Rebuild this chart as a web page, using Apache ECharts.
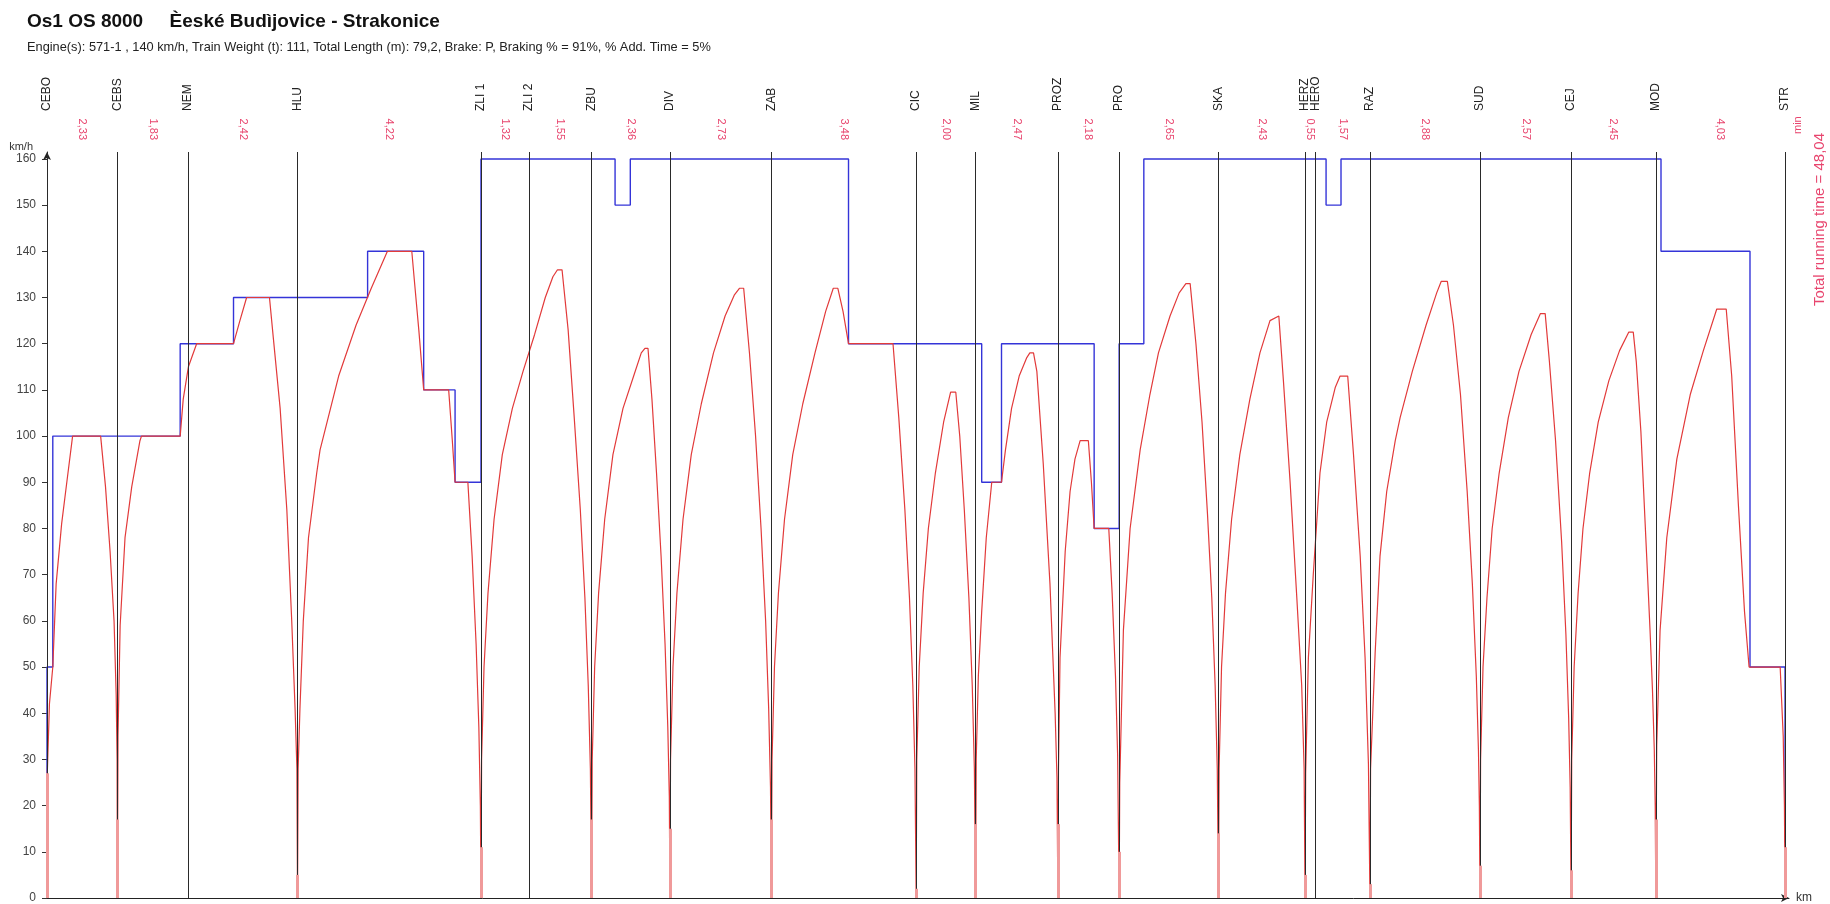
<!DOCTYPE html>
<html>
<head>
<meta charset="utf-8">
<script src="https://cdn.jsdelivr.net/npm/echarts@6/dist/echarts.min.js"></script>
<style>
  html, body { margin: 0; padding: 0; background: #fff; }
  #chart { width: 1830px; height: 904px; }
</style>
</head>
<body>
<div id="chart"></div>
<script>
// Timetable points along the line (km from České Budějovice)
const stationNames = ['CEBO', 'CEBS', 'NEM', 'HLU', 'ZLI 1', 'ZLI 2', 'ZBU', 'DIV', 'ZAB', 'CIC',
  'MIL', 'PROZ', 'PRO', 'SKA', 'HERZ', 'HERO', 'RAZ', 'SUD', 'CEJ', 'MOD', 'STR'];
const stationKm = [0, 2.31, 4.62, 8.22, 14.24, 15.81, 17.87, 20.44, 23.77, 28.52,
  30.47, 33.17, 35.18, 38.44, 41.28, 41.63, 43.41, 47.02, 50.01, 52.79, 57.03];

// Running time between consecutive timing points (min)
const runTimes = ['2,33', '1,83', '2,42', '4,22', '1,32', '1,55', '2,36', '2,73', '3,48', '2,00',
  '2,47', '2,18', '2,65', '2,43', '0,55', '1,57', '2,88', '2,57', '2,45', '4,03'];
const totalRunningTime = '48,04';

// Stops and the speed below which the train is treated as standing (km/h)
const stopStations = ['CEBO', 'CEBS', 'HLU', 'ZLI 1', 'ZBU', 'DIV', 'ZAB', 'CIC', 'MIL', 'PROZ',
  'PRO', 'SKA', 'HERZ', 'RAZ', 'SUD', 'CEJ', 'MOD', 'STR'];
const stopStandstill = [27, 17, 5, 11, 17, 15, 17, 2, 16, 16, 10, 14, 5, 3, 7, 6, 17, 11];

// Line speed limit: [km where the limit starts, km/h]
const speedLimit = [[0, 27], [0, 50], [0.19, 100], [4.37, 120], [6.12, 130], [10.52, 140],
  [12.36, 110], [13.39, 90], [14.24, 160], [18.64, 150], [19.14, 160], [26.30, 120],
  [30.67, 90], [31.32, 120], [34.36, 80], [35.18, 120], [35.99, 160], [41.97, 150],
  [42.46, 160], [52.96, 140], [55.88, 50], [57.03, 12]];

// Train speed [km, km/h], one run per stop-to-stop section
const runCeboCebs = [[0, 0], [0.01, 27], [0.08, 42], [0.19, 50], [0.30, 68], [0.48, 81], [0.65, 90],
  [0.84, 100], [1.76, 100], [1.92, 89], [2.07, 75], [2.20, 60], [2.27, 44], [2.30, 30], [2.31, 0]];
const runCebsHlu = [[2.31, 0], [2.33, 35], [2.40, 59], [2.56, 78], [2.78, 89], [3.05, 99], [3.10, 100],
  [4.37, 100], [4.47, 108], [4.64, 115], [4.91, 120], [6.12, 120], [6.33, 125], [6.55, 130],
  [7.30, 130], [7.43, 121], [7.65, 106], [7.87, 84], [8.03, 60], [8.14, 41], [8.20, 28], [8.22, 0]];
const runHluZli = [[8.22, 0], [8.24, 28], [8.30, 41], [8.41, 60], [8.58, 78], [8.85, 92], [8.96, 97],
  [9.57, 113], [10.14, 124], [10.64, 132], [11.17, 140], [11.97, 140], [12.05, 134], [12.20, 123],
  [12.36, 110], [13.18, 110], [13.30, 99], [13.39, 90], [13.81, 90], [13.95, 74], [14.08, 55],
  [14.17, 37], [14.22, 20], [14.24, 0]];
const runZliZbu = [[14.24, 0], [14.26, 30], [14.34, 50], [14.47, 66], [14.67, 82], [14.94, 96],
  [15.27, 106], [15.62, 114], [16.00, 122], [16.35, 130], [16.60, 134.5], [16.75, 136], [16.90, 136],
  [17.10, 123], [17.30, 104], [17.50, 84], [17.65, 65], [17.76, 46], [17.83, 28], [17.87, 0]];
const runZbuDiv = [[17.87, 0], [17.89, 30], [17.97, 50], [18.10, 66], [18.30, 82], [18.57, 96],
  [18.90, 106], [19.25, 113], [19.50, 118], [19.62, 119], [19.72, 119], [19.85, 108], [20.00, 92],
  [20.15, 74], [20.28, 55], [20.37, 37], [20.42, 22], [20.44, 0]];
const runDivZab = [[20.44, 0], [20.46, 30], [20.54, 50], [20.67, 66], [20.87, 82], [21.14, 96],
  [21.47, 107], [21.87, 118], [22.25, 126], [22.55, 130.5], [22.72, 132], [22.86, 132], [23.05, 118],
  [23.25, 100], [23.43, 80], [23.58, 60], [23.68, 41], [23.74, 24], [23.77, 0]];
const runZabCic = [[23.77, 0], [23.79, 30], [23.87, 50], [24.00, 66], [24.20, 82], [24.47, 96],
  [24.80, 107], [25.20, 118], [25.55, 127], [25.80, 132], [25.95, 132], [26.12, 127], [26.30, 120],
  [27.76, 120], [27.95, 104], [28.15, 84], [28.30, 65], [28.41, 46], [28.48, 28], [28.52, 0]];
const runCicMil = [[28.52, 0], [28.54, 30], [28.62, 50], [28.75, 66], [28.92, 80], [29.15, 92],
  [29.42, 103], [29.65, 109.5], [29.82, 109.5], [29.95, 100], [30.10, 84], [30.25, 65], [30.36, 46],
  [30.43, 28], [30.47, 0]];
const runMilProz = [[30.47, 0], [30.49, 30], [30.56, 48], [30.67, 62], [30.82, 78], [31.00, 90],
  [31.32, 90], [31.45, 97], [31.65, 106], [31.90, 113], [32.15, 117], [32.25, 118], [32.37, 118],
  [32.48, 114], [32.69, 94], [32.91, 68], [33.08, 40], [33.14, 26], [33.17, 0]];
const runProzPro = [[33.17, 0], [33.19, 28], [33.24, 52], [33.41, 75], [33.57, 88], [33.73, 95],
  [33.90, 99], [34.17, 99], [34.27, 90], [34.36, 80], [34.84, 80], [34.95, 66], [35.06, 48],
  [35.13, 31], [35.18, 0]];
const runProSka = [[35.18, 0], [35.20, 25], [35.32, 58], [35.54, 80], [35.87, 97], [36.19, 109],
  [36.47, 118], [36.85, 126], [37.15, 131], [37.37, 133], [37.51, 133], [37.70, 120], [37.90, 103],
  [38.08, 83], [38.22, 65], [38.33, 46], [38.40, 28], [38.44, 0]];
const runSkaHerz = [[38.44, 0], [38.46, 28], [38.54, 50], [38.67, 66], [38.87, 82], [39.14, 96],
  [39.47, 108], [39.80, 118], [40.13, 125], [40.42, 126], [40.57, 112], [40.79, 90], [41.01, 65],
  [41.17, 46], [41.25, 28], [41.28, 0]];
const runHerzRaz = [[41.28, 0], [41.30, 27], [41.39, 52], [41.55, 70], [41.63, 78], [41.77, 92],
  [41.99, 103], [42.27, 110.5], [42.43, 113], [42.68, 113], [42.87, 96], [43.09, 74], [43.25, 52],
  [43.36, 29], [43.41, 0]];
const runRazSud = [[43.41, 0], [43.43, 28], [43.58, 53], [43.74, 74], [43.96, 88], [44.24, 99],
  [44.40, 104], [44.80, 114], [45.25, 124], [45.60, 131], [45.75, 133.5], [45.95, 133.5], [46.15, 124],
  [46.38, 109], [46.60, 88], [46.77, 68], [46.90, 48], [46.97, 32], [47.00, 20], [47.02, 0]];
const runSudCej = [[47.02, 0], [47.04, 30], [47.12, 50], [47.25, 65], [47.42, 80], [47.65, 92],
  [47.95, 104], [48.30, 114], [48.70, 122], [49.00, 126.5], [49.16, 126.5], [49.30, 116], [49.50, 99],
  [49.70, 77], [49.84, 57], [49.93, 39], [49.98, 24], [50.01, 0]];
const runCejMod = [[50.01, 0], [50.03, 30], [50.11, 50], [50.24, 66], [50.40, 80], [50.62, 92],
  [50.90, 103], [51.25, 112], [51.60, 118.5], [51.90, 122.5], [52.05, 122.5], [52.15, 116],
  [52.30, 101], [52.49, 74], [52.60, 58], [52.68, 45], [52.74, 32], [52.77, 20], [52.79, 0]];
const runModStr = [[52.79, 0], [52.82, 33], [52.93, 58], [53.15, 78], [53.48, 95], [53.92, 109],
  [54.35, 118.5], [54.79, 127.5], [55.10, 127.5], [55.28, 113], [55.50, 85], [55.70, 62], [55.85, 50],
  [56.87, 50], [56.97, 35], [57.01, 20], [57.03, 0]];

// Speed axis ticks
const speedTicks = [0, 10, 20, 30, 40, 50, 60, 70, 80, 90, 100, 110, 120, 130, 140, 150, 160];

const KM_MAX = 57.16;     // axis runs a little past STR
const SPEED_MAX = 161.5;  // axis runs a little past 160

const trainSpeed = [].concat(runCeboCebs, runCebsHlu, runHluZli, runZliZbu, runZbuDiv, runDivZab,
  runZabCic, runCicMil, runMilProz, runProzPro, runProSka, runSkaHerz, runHerzRaz, runRazSud,
  runSudCej, runCejMod, runModStr);

// run-time labels sit halfway between their two timing points
const runTimeKm = runTimes.map((t, i) => (stationKm[i] + stationKm[i + 1]) / 2);

function labelAt(values, texts) {
  return function (v) {
    for (let i = 0; i < values.length; i++) {
      if (Math.abs(values[i] - v) < 1e-6) return texts[i];
    }
    return '';
  };
}

const FONT = '"Liberation Sans", Arial, sans-serif';
const RED_TEXT = '#e8456e';

const chart = echarts.init(document.getElementById('chart'), null, { renderer: 'canvas' });

chart.setOption({
  animation: false,
  backgroundColor: '#ffffff',
  textStyle: { fontFamily: FONT },
  title: {
    text: 'Os1 OS 8000     Èeské Budìjovice - Strakonice',
    subtext: 'Engine(s): 571-1 , 140 km/h, Train Weight (t): 111, Total Length (m): 79,2, Brake: P, Braking % = 91%, % Add. Time = 5%',
    left: 22,
    top: 7,
    itemGap: 10,
    textStyle: { fontFamily: FONT, fontSize: 19, fontWeight: 'bold', color: '#111' },
    subtextStyle: { fontFamily: FONT, fontSize: 12.8, color: '#222' }
  },
  grid: { left: 47, right: 41, top: 152, bottom: 5, containLabel: false },
  xAxis: [
    {
      type: 'value', min: 0, max: KM_MAX, position: 'bottom',
      axisLine: { show: true, onZero: false, lineStyle: { color: '#222', width: 1 },
        symbol: ['none', 'arrow'], symbolSize: [6, 8] },
      axisTick: { show: false }, axisLabel: { show: false }, splitLine: { show: false },
      name: 'km', nameLocation: 'end', nameGap: 7,
      nameTextStyle: { fontFamily: FONT, fontSize: 12, color: '#333', verticalAlign: 'middle' }
    },
    {
      type: 'value', min: 0, max: KM_MAX, position: 'top',
      axisLine: { show: false }, axisTick: { show: false }, splitLine: { show: false },
      axisLabel: {
        customValues: stationKm, rotate: 90, margin: 41, hideOverlap: false,
        showMinLabel: true, showMaxLabel: true,
        formatter: labelAt(stationKm, stationNames),
        fontFamily: FONT, fontSize: 12, color: '#222'
      }
    },
    {
      type: 'value', min: 0, max: KM_MAX, position: 'top',
      axisLine: { show: false }, axisTick: { show: false }, splitLine: { show: false },
      axisLabel: {
        customValues: runTimeKm, rotate: 90, margin: 12, hideOverlap: false,
        showMinLabel: true, showMaxLabel: true,
        formatter: labelAt(runTimeKm, runTimes),
        fontFamily: FONT, fontSize: 11, color: RED_TEXT
      }
    }
  ],
  yAxis: {
    type: 'value', min: 0, max: SPEED_MAX, interval: 10,
    axisLine: { show: true, onZero: false, lineStyle: { color: '#222', width: 1 },
      symbol: ['none', 'arrow'], symbolSize: [6, 8] },
    axisTick: { show: true, length: 5, customValues: speedTicks, lineStyle: { color: '#333' } },
    axisLabel: { customValues: speedTicks, margin: 11, fontFamily: FONT, fontSize: 12, color: '#444' },
    splitLine: { show: false }
  },
  graphic: [
    { type: 'text', x: 33, y: 152, silent: true,
      style: { text: 'km/h', align: 'right', verticalAlign: 'bottom', font: '11px ' + FONT, fill: '#333' } },
    { type: 'text', x: 1798, y: 134, rotation: Math.PI / 2, silent: true,
      style: { text: 'min', align: 'left', verticalAlign: 'middle', font: '11px ' + FONT, fill: RED_TEXT } },
    { type: 'text', x: 1820, y: 306, rotation: Math.PI / 2, silent: true,
      style: { text: 'Total running time = ' + totalRunningTime, align: 'left', verticalAlign: 'middle',
        font: '15px ' + FONT, fill: RED_TEXT } }
  ],
  series: [
    {
      name: 'Speed limit', type: 'line', data: speedLimit, step: 'end', z: 2,
      showSymbol: false, silent: true,
      lineStyle: { color: '#3434d8', width: 1.4 }
    },
    {
      name: 'Train speed', type: 'line', data: trainSpeed, z: 3,
      showSymbol: false, silent: true,
      lineStyle: { color: '#e23a3a', width: 1.2 }
    },
    {
      // timing-point verticals, drawn over the speed curves
      name: 'stations', type: 'line', data: [], z: 4, silent: true,
      markLine: {
        silent: true, symbol: ['none', 'none'], animation: false,
        label: { show: false },
        lineStyle: { color: '#2a2a2a', width: 1, type: 'solid' },
        emphasis: { disabled: true },
        data: stationKm.map(km => ({ xAxis: km }))
      }
    },
    {
      // standstill band at each stop
      name: 'standstill', type: 'line', data: [], z: 5, silent: true,
      markLine: {
        silent: true, symbol: ['none', 'none'], animation: false,
        label: { show: false },
        lineStyle: { color: '#f09a9a', width: 3, type: 'solid', opacity: 1 },
        emphasis: { disabled: true },
        data: stopStations.map((name, i) => {
          const km = stationKm[stationNames.indexOf(name)];
          return [{ coord: [km, 0] }, { coord: [km, stopStandstill[i]] }];
        })
      }
    }
  ]
});
</script>
</body>
</html>
